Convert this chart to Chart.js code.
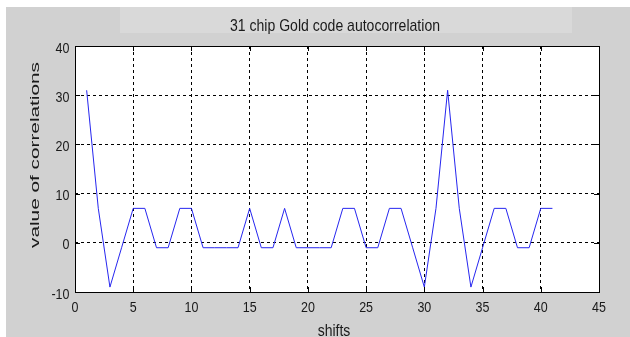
<!DOCTYPE html>
<html><head><meta charset="utf-8">
<script src="https://cdn.jsdelivr.net/npm/chart.js@4"></script>
<style>html,body{margin:0;padding:0;background:#fff;overflow:hidden}canvas{display:block}</style>
</head><body>
<canvas id="c" width="630" height="337"></canvas>
<script>
const chartTitle = '31 chip Gold code autocorrelation';
const xAxisTitle = 'shifts';
const yAxisTitle = 'value of correlations';
const shifts = [1,2,3,4,5,6,7,8,9,10,11,12,13,14,15,16,17,18,19,20,21,22,23,24,25,26,27,28,29,30,31,32,33,34,35,36,37,38,39,40,41];
const correlation = [31,7,-9,-1,7,7,-1,-1,7,7,-1,-1,-1,-1,7,-1,-1,7,-1,-1,-1,-1,7,7,-1,-1,7,7,-1,-9,7,31,7,-9,-1,7,7,-1,-1,7,7];
const xTicks = [0,5,10,15,20,25,30,35,40,45];
const yTicks = [-10,0,10,20,30,40];

const FONT = '"Liberation Sans", Arial, sans-serif';
function drawText(ctx, text, x, y, o) {
  ctx.save();
  ctx.font = o.size + 'px ' + FONT;
  ctx.fillStyle = o.color || '#1a1a1a';
  ctx.textAlign = o.align || 'center';
  ctx.textBaseline = 'alphabetic';
  ctx.translate(x, y);
  if (o.rotate) ctx.rotate(-Math.PI / 2);
  let along = 1;
  if (o.length) along = o.length / ctx.measureText(text).width;
  ctx.scale(along, o.across || 1);
  ctx.fillText(text, 0, 0);
  ctx.restore();
}

const decor = {
  id: 'decor',
  beforeDraw(chart) {
    const ctx = chart.ctx, a = chart.chartArea;
    ctx.save();
    ctx.fillStyle = '#ffffff';
    ctx.fillRect(0, 0, chart.width, chart.height);
    ctx.fillStyle = '#d1d1d1';
    ctx.fillRect(6, 7, chart.width - 6, chart.height - 7);
    ctx.fillStyle = '#d9d9d9';
    ctx.fillRect(120, 7, 452, 26);
    ctx.fillStyle = '#ffffff';
    ctx.fillRect(a.left, a.top, a.right - a.left, a.bottom - a.top);
    ctx.restore();
  },
  afterDraw(chart) {
    const ctx = chart.ctx, a = chart.chartArea;
    const xs = chart.scales.x, ys = chart.scales.y;
    ctx.save();
    ctx.strokeStyle = '#000';
    ctx.lineWidth = 1;
    ctx.setLineDash([]);
    ctx.strokeRect(Math.round(a.left) + 0.5, Math.round(a.top) + 0.5,
      Math.round(a.right - a.left), Math.round(a.bottom - a.top));
    const tl = 5;
    ctx.beginPath();
    xs.ticks.forEach(t => {
      const px = Math.round(xs.getPixelForValue(t.value)) + 0.5;
      if (t.value === xs.min || t.value === xs.max) return;
      ctx.moveTo(px, a.bottom); ctx.lineTo(px, a.bottom - tl);
      ctx.moveTo(px, a.top); ctx.lineTo(px, a.top + tl);
    });
    ys.ticks.forEach(t => {
      const py = Math.round(ys.getPixelForValue(t.value)) + 0.5;
      if (t.value === ys.min || t.value === ys.max) return;
      ctx.moveTo(a.left, py); ctx.lineTo(a.left + tl, py);
      ctx.moveTo(a.right, py); ctx.lineTo(a.right - tl, py);
    });
    ctx.stroke();
    ctx.restore();

    xs.ticks.forEach(t => {
      drawText(ctx, String(t.value), xs.getPixelForValue(t.value), 312, {size: 12.5, across: 1.21});
    });
    ys.ticks.forEach(t => {
      drawText(ctx, String(t.value), 69.5, ys.getPixelForValue(t.value) + 6.5, {size: 12.5, across: 1.21, align: 'right'});
    });
    drawText(ctx, chartTitle, 335, 30.5, {size: 14, across: 1.21, length: 210});
    drawText(ctx, xAxisTitle, 334, 336, {size: 14, across: 1.21});
    drawText(ctx, yAxisTitle, 39, 155, {size: 13.5, rotate: true, length: 186});
  }
};

new Chart(document.getElementById('c'), {
  type: 'line',
  data: {
    datasets: [{
      data: shifts.map((x, i) => ({x: x, y: correlation[i]})),
      borderColor: '#2626f0',
      borderWidth: 1,
      pointRadius: 0,
      tension: 0,
      fill: false
    }]
  },
  options: {
    responsive: false,
    animation: false,
    devicePixelRatio: 1,
    layout: {padding: {top: 46, right: 31, left: 0, bottom: 0}},
    plugins: {legend: {display: false}, tooltip: {enabled: false}, title: {display: false}},
    scales: {
      x: {
        type: 'linear', min: 0, max: 45,
        afterBuildTicks: s => { s.ticks = xTicks.map(v => ({value: v})); },
        afterFit: s => { s.height = 45; },
        ticks: {display: false},
        grid: {color: '#000', lineWidth: 1, drawTicks: false},
        border: {display: false, dash: [3, 3]}
      },
      y: {
        type: 'linear', min: -10, max: 40,
        afterBuildTicks: s => { s.ticks = yTicks.map(v => ({value: v})); },
        afterFit: s => { s.width = 75; },
        ticks: {display: false},
        grid: {color: '#000', lineWidth: 1, drawTicks: false},
        border: {display: false, dash: [3, 3]}
      }
    }
  },
  plugins: [decor]
});
</script>
</body></html>
